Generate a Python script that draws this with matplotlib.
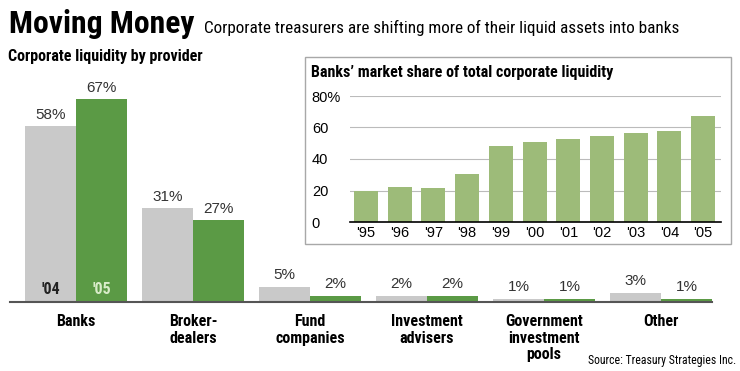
import matplotlib.pyplot as plt
from matplotlib.patches import Rectangle

# main chart: corporate liquidity by provider
providers = ["Banks", "Broker-\ndealers", "Fund\ncompanies", "Investment\nadvisers",
             "Government\ninvestment\npools", "Other"]
share_04 = [58, 31, 5, 2, 1, 3]
share_05 = [67, 27, 2, 2, 1, 1]

# inset: banks' market share by year
years = ["'95", "'96", "'97", "'98", "'99", "'00", "'01", "'02", "'03", "'04", "'05"]
bank_share = [20, 22, 21.5, 30.5, 48.5, 50.5, 52.5, 54.5, 56.5, 58, 67.5]
inset_ticks = [0, 20, 40, 60, 80]
inset_ticklabels = ["0", "20", "40", "60", "80%"]

GRAY = "#c9c9c9"
GREEN = "#5b9a45"
LIGHT_GREEN = "#9dbb79"
NARROW = ["Roboto Condensed", "DejaVu Sans"]
SANS = ["Liberation Sans", "DejaVu Sans"]

fig = plt.figure(figsize=(7.4, 3.71), dpi=100)

# Title
fig.text(9 / 740, 1 - 33 / 371, "Moving Money", family=NARROW, weight="bold",
         fontsize=22.8, va="baseline", ha="left")
fig.text(204 / 740, 1 - 33 / 371,
         "Corporate treasurers are shifting more of their liquid assets into banks",
         family=NARROW, fontsize=12.3, va="baseline", ha="left")
fig.text(8 / 740, 1 - 61 / 371, "Corporate liquidity by provider", family=NARROW,
         weight="bold", fontsize=11.5, va="baseline", ha="left")

# Main bar chart
ax = fig.add_axes([10 / 740, 69 / 371, 702 / 740, 212 / 371])
w = 0.436
xs = list(range(len(providers)))
ax.bar([x - w / 2 for x in xs], share_04, width=w, color=GRAY, linewidth=0)
ax.bar([x + w / 2 for x in xs], share_05, width=w, color=GREEN, linewidth=0)
for x, a, b in zip(xs, share_04, share_05):
    ax.text(x - w / 2, a + 1.5, f"{a}%", ha="center", va="bottom", family=SANS, fontsize=11,
            color="#333333")
    ax.text(x + w / 2, b + 1.5, f"{b}%", ha="center", va="bottom", family=SANS, fontsize=11,
            color="#333333")
ax.text(-w / 2, 1.5, "'04", ha="center", va="bottom", family=NARROW, weight="bold",
        fontsize=11.5, color="#222222")
ax.text(w / 2, 1.5, "'05", ha="center", va="bottom", family=NARROW, weight="bold",
        fontsize=11.5, color="#d9ecc9")
ax.set_xlim(-0.564, 5.436)
ax.set_ylim(0, 70)
for s in ["top", "right", "left"]:
    ax.spines[s].set_visible(False)
ax.spines["bottom"].set_color("#555555")
ax.spines["bottom"].set_linewidth(1.5)
ax.set_yticks([])
ax.set_xticks(xs)
ax.set_xticklabels(providers, family=NARROW, weight="bold", fontsize=11.5, linespacing=1.15)
ax.tick_params(axis="x", length=0, pad=8.5)

# Inset box
fig.patches.append(Rectangle((305 / 740, 127 / 371), 426 / 740, 187 / 371,
                             transform=fig.transFigure, facecolor="white",
                             edgecolor="#a8a8a8", linewidth=1.0, zorder=1))
fig.text(311 / 740, 1 - 77 / 371, "Banks\u2019 market share of total corporate liquidity",
         family=NARROW, weight="bold", fontsize=11.5, va="baseline", ha="left", zorder=3)

ax2 = fig.add_axes([350 / 740, 149 / 371, 371 / 740, 126 / 371], zorder=3)
ax2.patch.set_visible(False)
ax2.bar(range(len(years)), bank_share, width=0.71, color=LIGHT_GREEN, linewidth=0, zorder=2)
ax2.set_xlim(-0.475, 10.53)
ax2.set_ylim(0, 80)
ax2.set_yticks(inset_ticks)
ax2.set_yticklabels(inset_ticklabels, family=SANS, fontsize=10.5)
for t in ax2.get_yticklabels():
    t.set_horizontalalignment("left")
ax2.tick_params(axis="y", length=0, pad=27.5)
ax2.grid(axis="y", color="#bbbbbb", linewidth=0.8, zorder=0)
ax2.set_axisbelow(True)
ax2.set_xticks(range(len(years)))
ax2.set_xticklabels(years, family=SANS, fontsize=10.5)
ax2.tick_params(axis="x", length=0, pad=3)
for s in ["top", "right", "left"]:
    ax2.spines[s].set_visible(False)
ax2.spines["bottom"].set_color("black")
ax2.spines["bottom"].set_linewidth(1.2)

fig.text(736 / 740, 1 - 364 / 371, "Source: Treasury Strategies Inc.", family=NARROW,
         fontsize=8.5, ha="right", va="baseline")

fig.savefig("out.png", dpi=100)
